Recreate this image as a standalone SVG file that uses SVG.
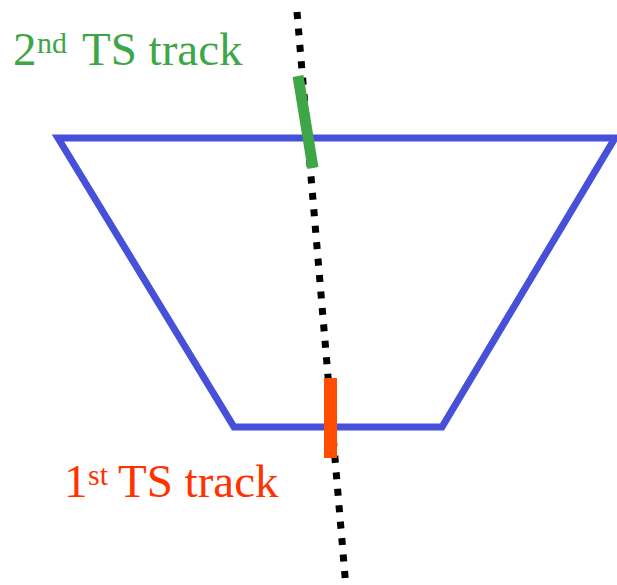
<svg xmlns="http://www.w3.org/2000/svg" width="617" height="585" viewBox="0 0 617 585">
<style>
.lbl{font-family:"Liberation Serif","Times New Roman",serif;font-size:47px}
.sup{font-size:30px}
.green{fill:#3fa648}
.red{fill:#ff3300}
</style>
<rect width="617" height="585" fill="#ffffff"/>
<g id="trapezoid">
<polygon points="58,138 615,138 442,427 234,427" fill="none" stroke="#4650d8" stroke-width="7" stroke-linejoin="miter"/>
</g>
<g id="connectors">
<line id="track-line" x1="297" y1="12" x2="345.5" y2="582" stroke="#000" stroke-width="7" stroke-dasharray="7 9.5"/>
</g>
<g id="ts2">
<line x1="298" y1="76" x2="313" y2="168" stroke="#3fa648" stroke-width="11"/>
<text class="lbl green" x="13" y="65">2<tspan class="sup" x="37" dy="-12">nd</tspan><tspan x="82" dy="12">TS track</tspan></text>
</g>
<g id="ts1">
<rect x="324" y="378" width="13" height="80" fill="#ff4d00"/>
<text class="lbl red" x="64" y="497">1<tspan class="sup" x="88" dy="-12">st</tspan><tspan x="118" dy="12">TS track</tspan></text>
</g>
</svg>
